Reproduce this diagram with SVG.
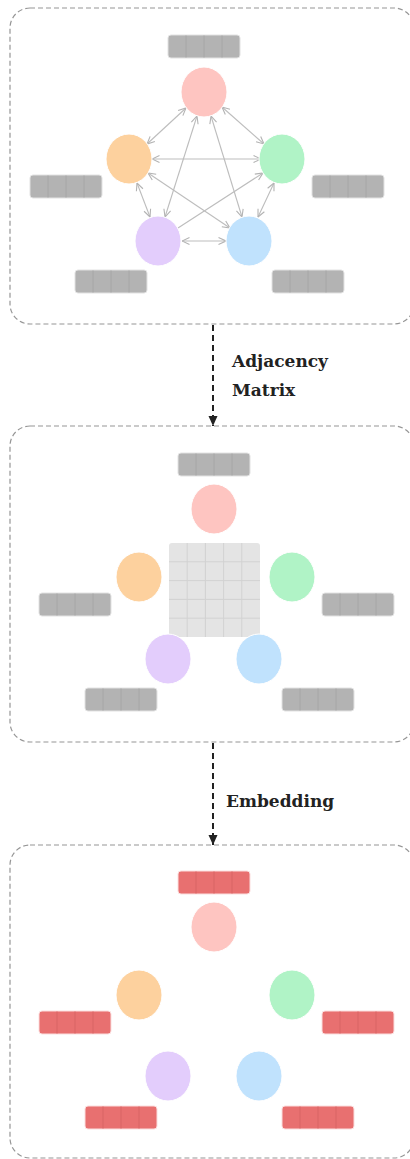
<svg xmlns="http://www.w3.org/2000/svg" width="410" height="1159" viewBox="0 0 410 1159">
<defs>
<style>
.panel{fill:#fff;stroke:#969696;stroke-width:1.2;stroke-dasharray:5 3}
.n-red{fill:#fec5c1;stroke:#fff;stroke-width:1}
.n-orange{fill:#fdd19e;stroke:#fff;stroke-width:1}
.n-green{fill:#b0f3c6;stroke:#fff;stroke-width:1}
.n-purple{fill:#e3cdfc;stroke:#fff;stroke-width:1}
.n-blue{fill:#c0e2fd;stroke:#fff;stroke-width:1}
.edge{stroke:#bdbdbd;stroke-width:1.1;fill:none}
.flow{stroke:#222;stroke-width:2;stroke-dasharray:6 4;fill:none}
.lbl{font-family:"DejaVu Serif","Liberation Serif",serif;font-weight:bold;font-size:17px;fill:#222}
</style>
<marker id="oh" viewBox="0 0 9 9" refX="8.5" refY="4.5" markerWidth="9" markerHeight="9" markerUnits="userSpaceOnUse" orient="auto-start-reverse">
<path d="M1,1 L8.5,4.5 L1,8" fill="none" stroke="#b3b3b3" stroke-width="1.1"/>
</marker>
<marker id="ah" viewBox="0 0 10 10" refX="10" refY="5" markerWidth="10" markerHeight="10" markerUnits="userSpaceOnUse" orient="auto">
<path d="M0,0.5 L10,5 L0,9.5 Z" fill="#222"/>
</marker>
<g id="barGray">
<rect x="0" y="0" width="72" height="23" rx="3" fill="#b3b3b3" stroke="#e2e2e2" stroke-width="1"/>
<path d="M18,0.5 V22.5 M36,0.5 V22.5 M54,0.5 V22.5" stroke="#a6a6a6" stroke-width="1"/>
</g>
<g id="barRed">
<rect x="0" y="0" width="72" height="23" rx="3" fill="#e87070" stroke="#fbdede" stroke-width="1"/>
<path d="M18,0.5 V22.5 M36,0.5 V22.5 M54,0.5 V22.5" stroke="#d86464" stroke-width="1"/>
</g>
</defs>
<rect width="410" height="1159" fill="#fff"/>

<!-- Panel 1: graph -->
<g id="panel1">
<rect class="panel" x="10" y="8" width="404" height="316" rx="20"/>
</g>
<g id="connectors1">
<line class="edge" x1="186" y1="108" x2="147" y2="144" marker-start="url(#oh)" marker-end="url(#oh)"/>
<line class="edge" x1="222" y1="107" x2="264" y2="144" marker-start="url(#oh)" marker-end="url(#oh)"/>
<line class="edge" x1="152" y1="159" x2="261" y2="159" marker-start="url(#oh)" marker-end="url(#oh)"/>
<line class="edge" x1="197" y1="116" x2="165" y2="217" marker-start="url(#oh)" marker-end="url(#oh)"/>
<line class="edge" x1="211" y1="116" x2="242" y2="217" marker-start="url(#oh)" marker-end="url(#oh)"/>
<line class="edge" x1="137" y1="183" x2="150" y2="217" marker-start="url(#oh)" marker-end="url(#oh)"/>
<line class="edge" x1="274" y1="183" x2="258" y2="217" marker-start="url(#oh)" marker-end="url(#oh)"/>
<line class="edge" x1="182" y1="241" x2="226" y2="241" marker-start="url(#oh)" marker-end="url(#oh)"/>
<line class="edge" x1="148" y1="173" x2="230" y2="228" marker-start="url(#oh)" marker-end="url(#oh)"/>
<line class="edge" x1="178" y1="228" x2="263" y2="173" marker-end="url(#oh)"/>
</g>
<g id="p1-red"><ellipse class="n-red" cx="204" cy="92" rx="23" ry="25"/><use href="#barGray" x="168" y="35"/></g>
<g id="p1-orange"><ellipse class="n-orange" cx="129" cy="159" rx="23" ry="25"/><use href="#barGray" x="30" y="175"/></g>
<g id="p1-green"><ellipse class="n-green" cx="282" cy="159" rx="23" ry="25"/><use href="#barGray" x="312" y="175"/></g>
<g id="p1-purple"><ellipse class="n-purple" cx="158" cy="241" rx="23" ry="25"/><use href="#barGray" x="75" y="270"/></g>
<g id="p1-blue"><ellipse class="n-blue" cx="249" cy="241" rx="23" ry="25"/><use href="#barGray" x="272" y="270"/></g>

<!-- Flow arrow 1 -->
<g id="flow1">
<line class="flow" x1="213" y1="325" x2="213" y2="426" marker-end="url(#ah)"/>
<text class="lbl" x="232" y="367">Adjacency</text>
<text class="lbl" x="232" y="396">Matrix</text>
</g>

<!-- Panel 2: adjacency matrix -->
<g id="panel2">
<rect class="panel" x="10" y="426" width="404" height="316" rx="20"/>
</g>
<g id="p2-matrix">
<rect x="169" y="543" width="91" height="94" rx="3" fill="#e4e4e4"/>
<path d="M187.2,543 V637 M205.4,543 V637 M223.6,543 V637 M241.8,543 V637 M169,561.8 H260 M169,580.6 H260 M169,599.4 H260 M169,618.2 H260" stroke="#d2d2d2" stroke-width="1"/>
</g>
<g id="p2-red"><ellipse class="n-red" cx="214" cy="509" rx="23" ry="25"/><use href="#barGray" x="178" y="453"/></g>
<g id="p2-orange"><ellipse class="n-orange" cx="139" cy="577" rx="23" ry="25"/><use href="#barGray" x="39" y="593"/></g>
<g id="p2-green"><ellipse class="n-green" cx="292" cy="577" rx="23" ry="25"/><use href="#barGray" x="322" y="593"/></g>
<g id="p2-purple"><ellipse class="n-purple" cx="168" cy="659" rx="23" ry="25"/><use href="#barGray" x="85" y="688"/></g>
<g id="p2-blue"><ellipse class="n-blue" cx="259" cy="659" rx="23" ry="25"/><use href="#barGray" x="282" y="688"/></g>

<!-- Flow arrow 2 -->
<g id="flow2">
<line class="flow" x1="213" y1="743" x2="213" y2="845" marker-end="url(#ah)"/>
<text class="lbl" x="226" y="807">Embedding</text>
</g>

<!-- Panel 3: embeddings -->
<g id="panel3">
<rect class="panel" x="10" y="845" width="404" height="313" rx="20"/>
</g>
<g id="p3-red"><ellipse class="n-red" cx="214" cy="927" rx="23" ry="25"/><use href="#barRed" x="178" y="871"/></g>
<g id="p3-orange"><ellipse class="n-orange" cx="139" cy="995" rx="23" ry="25"/><use href="#barRed" x="39" y="1011"/></g>
<g id="p3-green"><ellipse class="n-green" cx="292" cy="995" rx="23" ry="25"/><use href="#barRed" x="322" y="1011"/></g>
<g id="p3-purple"><ellipse class="n-purple" cx="168" cy="1076" rx="23" ry="25"/><use href="#barRed" x="85" y="1106"/></g>
<g id="p3-blue"><ellipse class="n-blue" cx="259" cy="1076" rx="23" ry="25"/><use href="#barRed" x="282" y="1106"/></g>
</svg>
